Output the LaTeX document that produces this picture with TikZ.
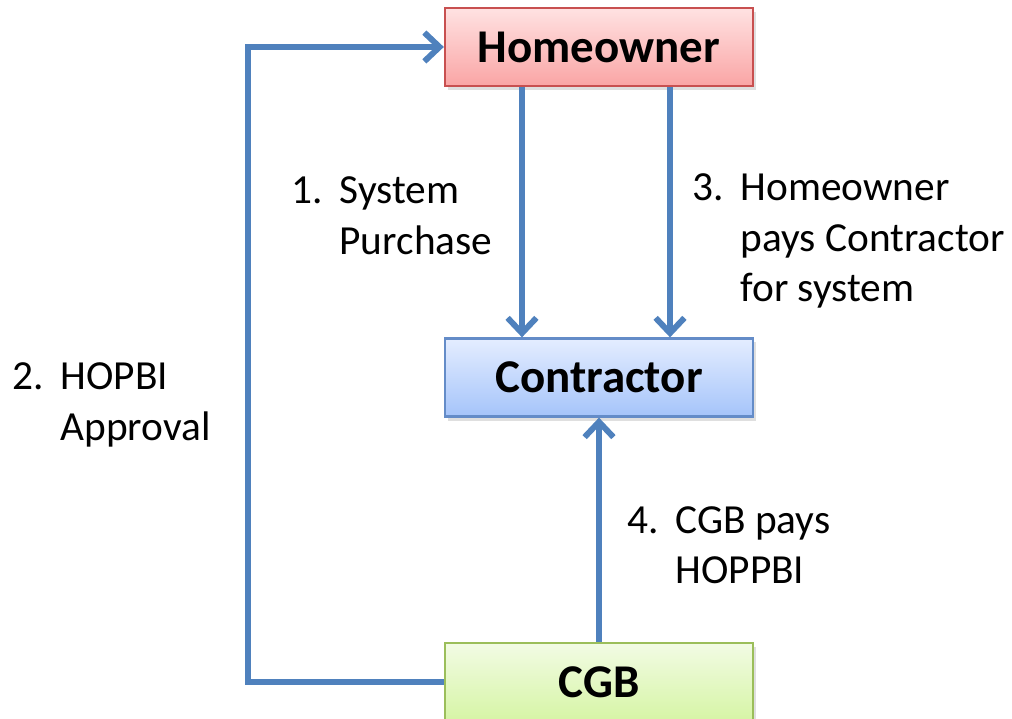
\documentclass[tikz,border=0pt]{standalone}
\usepackage{fontspec}
\setmainfont{Carlito}
\usetikzlibrary{arrows.meta,shadows}
\definecolor{flowblue}{RGB}{79,129,189}
\tikzset{
	box/.style={draw, rectangle, line width=0.8pt, minimum width=3.85cm, minimum height=0.975cm, inner sep=0pt, font=\fontsize{16.7}{20}\selectfont\bfseries, drop shadow={opacity=0.25, shadow xshift=0.04cm, shadow yshift=-0.05cm}},
	flow/.style={draw=flowblue, line width=2.1pt, -{Straight Barb[length=0.19cm, width=0.36cm, line width=2.1pt]}},
	step label/.style={anchor=base west, inner sep=0pt, font=\fontsize{14.7}{17.8}\selectfont}
}
\newcommand{\numitem}[2]{\begin{tabular}[t]{@{}l@{}}\makebox[0.6cm][l]{#1}#2\end{tabular}}
\begin{document}
\begin{tikzpicture}[x=0.0125cm, y=-0.0125cm]
				\path[use as bounding box, clip] (0,0) rectangle (1012,719);
				\node[box, draw={rgb,255:red,200;green,80;blue,80}, top color={rgb,255:red,255;green,226;blue,226}, bottom color={rgb,255:red,250;green,165;blue,165}] (HO) at (599, 47) {Homeowner};
				\node[box, draw={rgb,255:red,100;green,140;blue,200}, top color={rgb,255:red,228;green,237;blue,255}, bottom color={rgb,255:red,165;green,196;blue,250}] (CO) at (599, 377.5) {Contractor};
				\node[box, draw={rgb,255:red,155;green,190;blue,90}, top color={rgb,255:red,242;green,251;blue,228}, bottom color={rgb,255:red,214;green,245;blue,165}] (CGB) at (599, 682) {CGB};
				\coordinate (corner) at (248, 47);
				\draw[flow] ([xshift=-0.9625cm]HO.south) -- ([xshift=-0.9625cm]CO.north);
				\draw[flow] ([xshift=0.8875cm]HO.south) -- ([xshift=0.8875cm]CO.north);
				\draw[flow] (CGB.north) -- (CO.south);
				\draw[flow] (CGB.west) -| (corner) -- (HO.west);
				\node[step label] (L1) at (291, 204) {\numitem{1.}{System\\\hspace{0.6cm}Purchase}};
				\node[step label] (L2) at (12, 390) {\numitem{2.}{HOPBI\\\hspace{0.6cm}Approval}};
				\node[step label] (L3) at (692, 201) {\numitem{3.}{Homeowner\\\hspace{0.6cm}pays Contractor\\\hspace{0.6cm}for system}};
				\node[step label] (L4) at (627, 533) {\numitem{4.}{CGB pays\\\hspace{0.6cm}HOPPBI}};
			\end{tikzpicture}
\end{document}
